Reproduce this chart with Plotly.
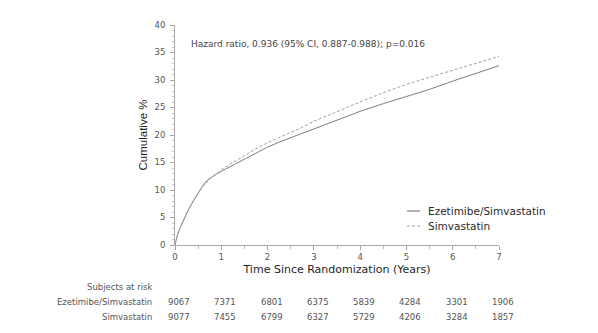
import plotly.graph_objects as go

# Cumulative incidence (%) by years since randomization
years = [0, 0.02, 0.05, 0.1, 0.2, 0.3, 0.4, 0.5, 0.6, 0.7, 0.8, 0.9, 1.0,
         1.25, 1.5, 1.75, 2.0, 2.25, 2.5, 2.75, 3.0, 3.5, 4.0, 4.5, 5.0,
         5.5, 6.0, 6.5, 7.0]
eze_simva = [0, 1.0, 1.8, 2.9, 4.9, 6.6, 8.1, 9.5, 10.8, 11.8, 12.4, 12.9, 13.4,
             14.5, 15.5, 16.7, 17.8, 18.7, 19.5, 20.3, 21.2, 22.8, 24.3, 25.7, 27.0,
             28.3, 29.8, 31.2, 32.6]
simva = [0, 1.0, 1.8, 2.9, 4.9, 6.5, 8.0, 9.4, 10.6, 11.6, 12.4, 13.0, 13.7,
         15.0, 16.3, 17.5, 18.6, 19.5, 20.5, 21.4, 22.5, 24.3, 26.0, 27.7, 29.2,
         30.5, 31.8, 33.1, 34.3]

series_names = ["Ezetimibe/Simvastatin", "Simvastatin"]

# Subjects at risk at each year
risk_years = [0, 1, 2, 3, 4, 5, 6, 7]
risk_eze_simva = [9067, 7371, 6801, 6375, 5839, 4284, 3301, 1906]
risk_simva = [9077, 7455, 6799, 6327, 5729, 4206, 3284, 1857]

hazard_text = "Hazard ratio, 0.936 (95% CI, 0.887-0.988); p=0.016"

SOLID_COLOR = "#83798c"
DASH_COLOR = "#a39dab"
FONT = "DejaVu Sans"

fig = go.Figure()
fig.add_trace(go.Scatter(x=years, y=eze_simva, mode="lines", name=series_names[0],
                         line=dict(color=SOLID_COLOR, width=1)))
fig.add_trace(go.Scatter(x=years, y=simva, mode="lines", name=series_names[1],
                         line=dict(color=DASH_COLOR, width=1, dash="3px,2px")))

# Plot area geometry (pixels) used for paper-coordinate placement
L, R, T, B = 175, 99, 25, 88
W = 598 - L - R
H = 333 - T - B

def px_x(px):
    return (px - L) / W

def px_y(py):
    return (333 - B - py) / H

annotations = []
shapes = []

# Hazard ratio note
annotations.append(dict(x=0.3, y=36.5, xref="x", yref="y", text=hazard_text,
                        showarrow=False, xanchor="left", yanchor="middle",
                        font=dict(family=FONT, size=9, color="#444")))

# Manual legend
legend_rows = [(211, SOLID_COLOR, "solid"), (226, DASH_COLOR, "3px,2px")]
for (py, col, dash), name in zip(legend_rows, series_names):
    shapes.append(dict(type="line", xref="paper", yref="paper",
                       x0=px_x(407), x1=px_x(420), y0=px_y(py), y1=px_y(py),
                       line=dict(color=col, width=1.2, dash=dash)))
    annotations.append(dict(x=px_x(426), y=px_y(py), xref="paper", yref="paper",
                            text=name, showarrow=False, xanchor="left",
                            yanchor="middle",
                            font=dict(family=FONT, size=10.5, color="#2a2a2a")))

# Subjects-at-risk table
table_font = dict(family=FONT, size=8.5, color="#555")
annotations.append(dict(x=px_x(154), y=px_y(287), xref="paper", yref="paper",
                        text="Subjects at risk", showarrow=False, xanchor="right",
                        yanchor="middle", font=table_font))
for py, name, counts in [(302, series_names[0], risk_eze_simva),
                         (317, series_names[1], risk_simva)]:
    annotations.append(dict(x=px_x(154), y=px_y(py), xref="paper", yref="paper",
                            text=name, showarrow=False, xanchor="right",
                            yanchor="middle", font=table_font))
    for yr, n in zip(risk_years, counts):
        annotations.append(dict(x=yr, y=px_y(py), xref="x", yref="paper",
                                text=str(n), showarrow=False, xanchor="center",
                                xshift=4, yanchor="middle", font=table_font))

axis_common = dict(showgrid=False, zeroline=False, showline=True,
                   linecolor="#a8a8a8", linewidth=1, ticks="outside",
                   tickcolor="#a8a8a8", ticklen=4, tickwidth=1,
                   tickfont=dict(family=FONT, size=8.5, color="#555"))

fig.update_layout(
    width=598, height=333,
    margin=dict(l=L, r=R, t=T, b=B),
    paper_bgcolor="white", plot_bgcolor="white",
    showlegend=False,
    xaxis=dict(range=[0, 7], dtick=1, tick0=0,
               minor=dict(dtick=0.5, ticks="outside", ticklen=3,
                          tickcolor="#b8b8b8"),
               title=dict(text="Time Since Randomization (Years)", standoff=4,
                          font=dict(family=FONT, size=11, color="#1e1e1e")),
               **axis_common),
    yaxis=dict(range=[0, 40], dtick=5, tick0=0, ticklabelstandoff=3,
               minor=dict(dtick=1, ticks="outside", ticklen=2,
                          tickcolor="#c0c8c0"),
               title=dict(text="Cumulative %", standoff=4,
                          font=dict(family="Liberation Sans", size=11.5, color="#1e1e1e")),
               **axis_common),
    annotations=annotations,
    shapes=shapes,
)

fig.write_html("out.html")
